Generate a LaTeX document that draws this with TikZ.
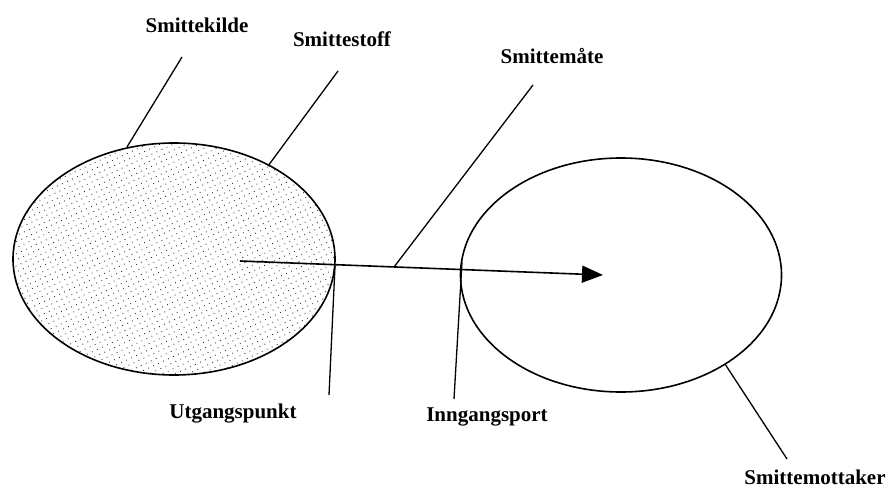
\documentclass[tikz,border=0pt]{standalone}
\usepackage{fontspec}
\setmainfont{Liberation Serif}
\usetikzlibrary{shapes.geometric,arrows.meta,patterns.meta}
\begin{document}
\begin{tikzpicture}[x=1pt,y=-1pt,
  lbl/.style={font=\bfseries\fontsize{21}{23}\selectfont, inner sep=0pt},
  oval/.style={draw, line width=1.6pt, ellipse, inner sep=0pt},
  lead/.style={line width=1.3pt}]
\useasboundingbox (0,0) rectangle (893,492);
% ellipses
\node[oval, minimum width=322pt, minimum height=232pt,
      pattern={Dots[distance=5.5pt, radius=0.6pt, angle=25]}, pattern color=black!85]
      (src) at (174,259) {};
\node[oval, minimum width=321pt, minimum height=234pt] (rcv) at (621,275) {};
% arrow
\coordinate (aStart) at (240,261);
\coordinate (aEnd) at (603,275);
\draw[line width=1.6pt, -{Triangle[length=21pt,width=17pt]}] (aStart) -- (aEnd);
% labels
\node[lbl] (kilde) at (197,25) {Smittekilde};
\node[lbl] (stoff) at (342,39) {Smittestoff};
\node[lbl] (maate) at (552,56) {Smittemåte};
\node[lbl] (utg) at (233,414) {Utgangspunkt};
\node[lbl] (inng) at (487,417) {Inngangsport};
\node[lbl] (mott) at (815,477) {Smittemottaker};
% leader lines
\coordinate (kildeA) at (182,57);  \coordinate (kildeB) at (127,147);
\coordinate (stoffA) at (338,71);  \coordinate (stoffB) at (268,166);
\coordinate (maateA) at (533,85);  \coordinate (maateB) at (394,267);
\coordinate (utgA) at (335,266);   \coordinate (utgB) at (329,395);
\coordinate (inngA) at (462,262);  \coordinate (inngB) at (454,399);
\coordinate (mottA) at (725,364);  \coordinate (mottB) at (787,459);
\draw[lead] (kildeA) -- (kildeB);
\draw[lead] (stoffA) -- (stoffB);
\draw[lead] (maateA) -- (maateB);
\draw[lead] (utgA) -- (utgB);
\draw[lead] (inngA) -- (inngB);
\draw[lead] (mottA) -- (mottB);
\end{tikzpicture}
\end{document}
